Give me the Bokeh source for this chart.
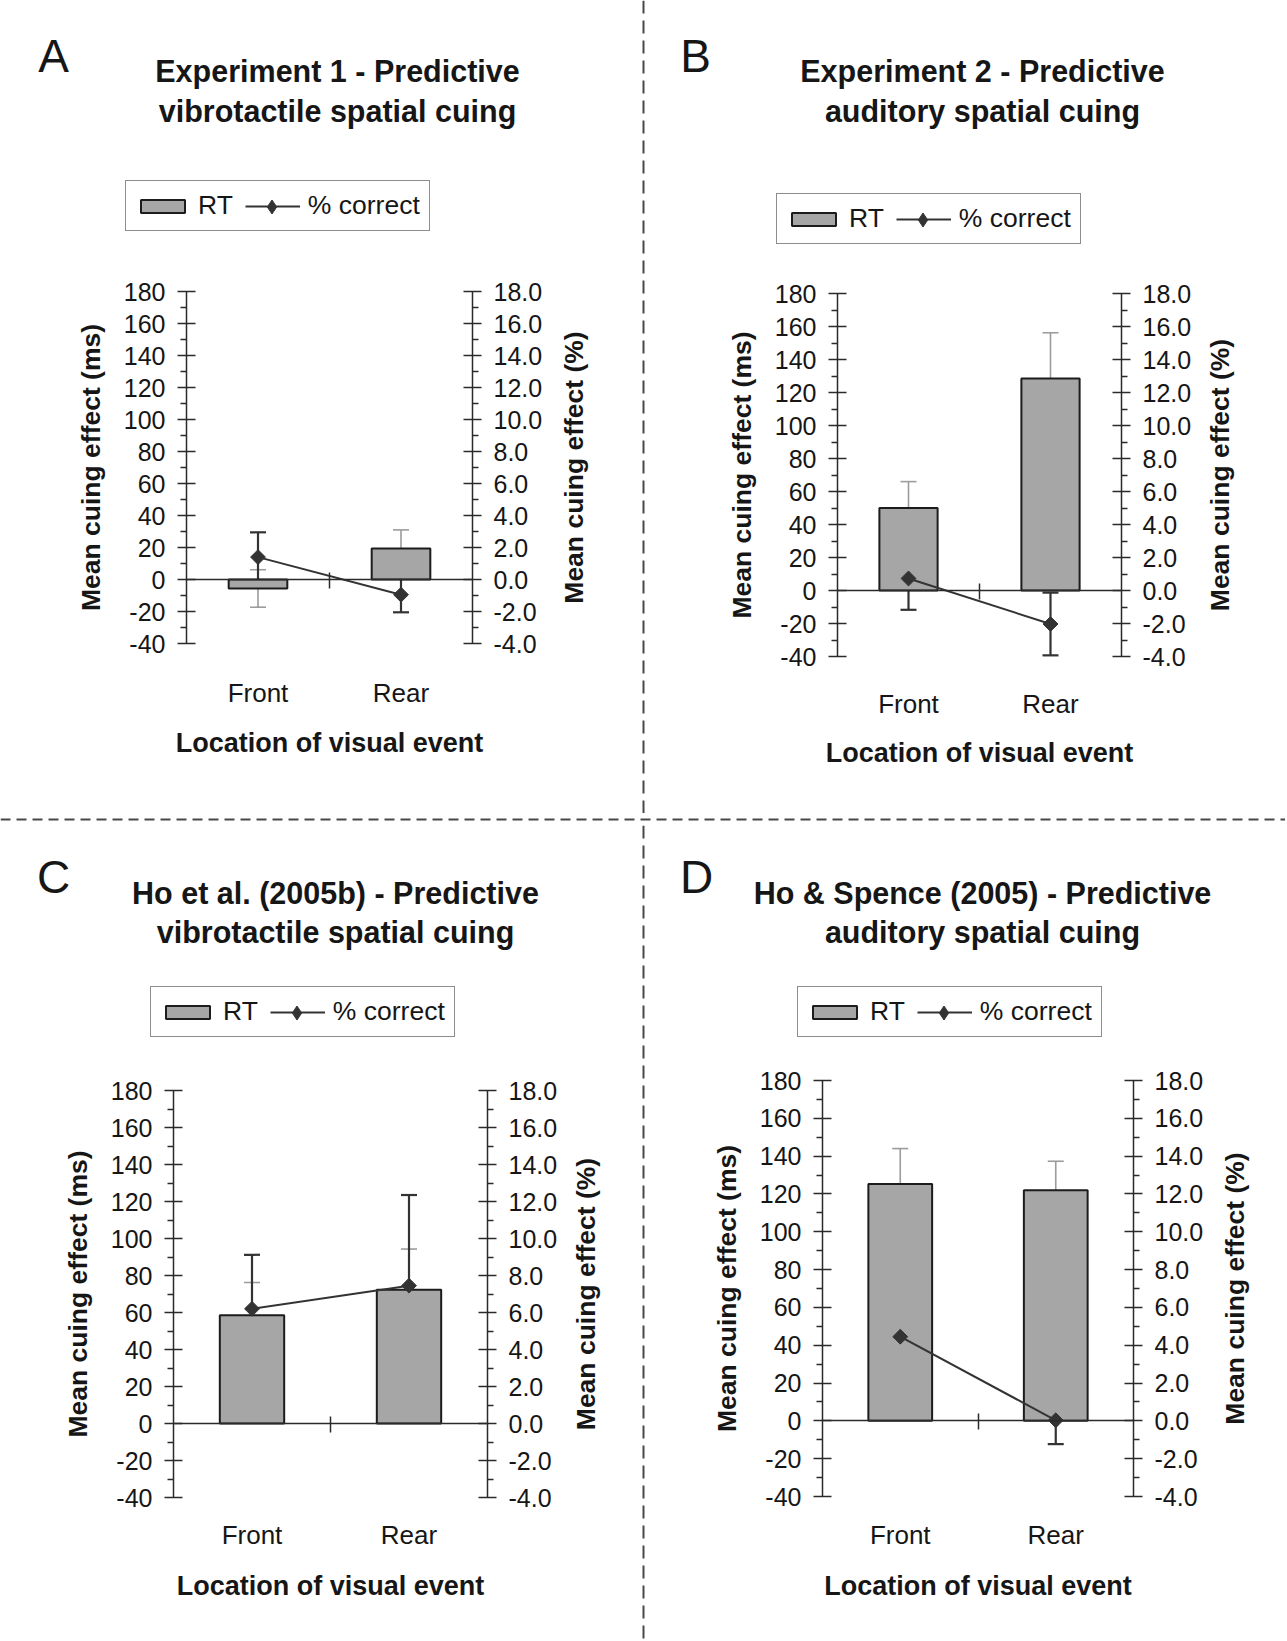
import math
from bokeh.plotting import figure
from bokeh.models import (Range1d, LinearAxis, FixedTicker, PrintfTickFormatter,
                          ColumnDataSource, Whisker, TeeHead, Legend, LegendItem,
                          Label, Span)
from bokeh.layouts import column, row
from bokeh.embed import file_html
from bokeh.resources import INLINE

FONT = "Liberation Sans"
INK = "#161616"

# ---------------- data ----------------
categories = ["Front", "Rear"]
x_pos = [0.5, 1.5]

rt_ticks = [-40, -20, 0, 20, 40, 60, 80, 100, 120, 140, 160, 180]
rt_minor = [-30, -10, 10, 30, 50, 70, 90, 110, 130, 150, 170]
pct_ticks = [-4, -2, 0, 2, 4, 6, 8, 10, 12, 14, 16, 18]
pct_minor = [-3, -1, 1, 3, 5, 7, 9, 11, 13, 15, 17]

letters = ["A", "B", "C", "D"]
titles_1 = ["Experiment 1 - Predictive", "Experiment 2 - Predictive",
            "Ho et al. (2005b) - Predictive", "Ho & Spence (2005) - Predictive"]
titles_2 = ["vibrotactile spatial cuing", "auditory spatial cuing",
            "vibrotactile spatial cuing", "auditory spatial cuing"]

rt_A = [-5.6, 19.3]
rt_err_A = [11.7, 11.7]
pct_A = [1.4, -0.95]
pct_err_A = [1.55, 1.1]

rt_B = [50.0, 128.5]
rt_err_B = [16.0, 27.7]
pct_B = [0.73, -2.03]
pct_err_B = [1.9, 1.9]

rt_C = [58.5, 72.3]
rt_err_C = [17.7, 22.0]
pct_C = [6.2, 7.45]
pct_err_C = [2.92, 4.9]

rt_D = [125.3, 122.0]
rt_err_D = [18.7, 15.3]
pct_D = [4.45, 0.03]
pct_err_D = [1.37, 1.26]

y_label_left = "Mean cuing effect (ms)"
y_label_right = "Mean cuing effect (%)"
x_label = "Location of visual event"
legend_labels = ["RT", "% correct"]

RT_MIN, RT_MAX = -40, 180

# legend geometry (pixels)
LEG_PAD = 9
LEG_GW = 55
LEG_GH = 16
LEG_STANDOFF = 8
LEG_SPACING = 12
LEG_FONT_PX = 26.5
LEG_H = 2 * LEG_PAD + 31
RT_LABEL_W = (0.722 + 0.611) * LEG_FONT_PX   # width of "RT" in Arial metrics
MK_BOX = 35


def style_y_axis(ax):
    ax.axis_line_color = "#2a2a2a"
    ax.axis_line_width = 1.5
    ax.major_tick_line_color = "#2a2a2a"
    ax.major_tick_line_width = 1.5
    ax.minor_tick_line_color = "#2a2a2a"
    ax.minor_tick_line_width = 1.5
    ax.major_tick_in = 9
    ax.major_tick_out = 9
    ax.minor_tick_in = 0
    ax.minor_tick_out = 6
    ax.major_label_standoff = 12
    ax.major_label_text_font = FONT
    ax.major_label_text_font_size = "25px"
    ax.major_label_text_color = INK
    ax.axis_label_text_font = FONT
    ax.axis_label_text_font_size = "26.5px"
    ax.axis_label_text_font_style = "bold"
    ax.axis_label_text_color = INK
    ax.axis_label_standoff = 15


def make_panel(i, rt, rt_err, pct, pct_err, g):
    ox, oy, W, H = g["ox"], g["oy"], g["W"], g["H"]
    L, R, T, B = g["L"], g["R"], g["T"], g["B"]

    # map the page geometry onto the data ranges (frame covers whole figure)
    ppx = (R - L) / 2.0
    x0 = 0 - (L - ox) / ppx
    x1 = 2 + (ox + W - R) / ppx
    ppy = (B - T) / float(RT_MAX - RT_MIN)
    y1 = RT_MAX + (T - oy) / ppy
    y0 = RT_MIN - (oy + H - B) / ppy

    def fx(px):
        return px - ox

    def fy(py):
        return H - (py - oy)

    p = figure(width=W, height=H, x_range=Range1d(x0, x1), y_range=Range1d(y0, y1),
               output_backend="svg", toolbar_location=None,
               x_axis_location=None, y_axis_location=None, min_border=0)
    p.extra_y_ranges = {"pct": Range1d(y0 / 10.0, y1 / 10.0)}
    p.xgrid.visible = False
    p.ygrid.visible = False
    p.outline_line_color = None
    p.background_fill_color = "white"
    p.border_fill_color = "white"

    ly = LinearAxis(fixed_location=0, bounds=(RT_MIN, RT_MAX),
                    ticker=FixedTicker(ticks=rt_ticks, minor_ticks=rt_minor),
                    formatter=PrintfTickFormatter(format="%d"),
                    axis_label=y_label_left)
    style_y_axis(ly)
    p.add_layout(ly, "left")

    ry = LinearAxis(y_range_name="pct", fixed_location=2,
                    bounds=(pct_ticks[0], pct_ticks[-1]),
                    ticker=FixedTicker(ticks=pct_ticks, minor_ticks=pct_minor),
                    formatter=PrintfTickFormatter(format="%.1f"))
    style_y_axis(ry)
    p.add_layout(ry, "right")

    # category axis crossing at zero
    zx = LinearAxis(fixed_location=0, bounds=(0, 2),
                    ticker=FixedTicker(ticks=[1], minor_ticks=[]),
                    major_label_overrides={1: ""})
    zx.axis_line_color = "#2a2a2a"
    zx.axis_line_width = 1.5
    zx.major_tick_line_color = "#2a2a2a"
    zx.major_tick_line_width = 1.5
    zx.major_tick_in = 7
    zx.major_tick_out = 9
    zx.minor_tick_line_color = None
    zx.major_label_text_font_size = "0px"
    p.add_layout(zx, "below")

    cx = LinearAxis(fixed_location=RT_MIN, bounds=(0, 2),
                    ticker=FixedTicker(ticks=x_pos, minor_ticks=[]),
                    major_label_overrides={x_pos[0]: categories[0], x_pos[1]: categories[1]},
                    axis_label=x_label)
    cx.axis_line_color = None
    cx.major_tick_line_color = None
    cx.minor_tick_line_color = None
    cx.major_tick_in = 0
    cx.major_tick_out = 0
    cx.major_label_standoff = g["cs"]
    cx.major_label_text_font = FONT
    cx.major_label_text_font_size = "26px"
    cx.major_label_text_color = INK
    cx.axis_label_text_font = FONT
    cx.axis_label_text_font_size = "27px"
    cx.axis_label_text_font_style = "bold"
    cx.axis_label_text_color = INK
    cx.axis_label_standoff = g["xs"]
    p.add_layout(cx, "below")

    src = ColumnDataSource(dict(
        x=x_pos, rt=rt,
        rt_up=[v + e for v, e in zip(rt, rt_err)],
        rt_lo=[v - e for v, e in zip(rt, rt_err)],
        pct=pct,
        pct_up=[v + e for v, e in zip(pct, pct_err)],
        pct_lo=[v - e for v, e in zip(pct, pct_err)],
    ))

    bars = p.vbar(x="x", top="rt", bottom=0, width=0.41, source=src,
                  fill_color="#a6a6a6", line_color="#1c1c1c", line_width=2)

    rt_col = "#9c9c9c"
    p.add_layout(Whisker(source=src, base="x", upper="rt_up", lower="rt_lo",
                         line_color=rt_col, line_width=1.6,
                         upper_head=TeeHead(size=16, line_color=rt_col, line_width=1.6),
                         lower_head=TeeHead(size=16, line_color=rt_col, line_width=1.6)))

    pc = "#333333"
    ln = p.line("x", "pct", source=src, y_range_name="pct", line_color=pc, line_width=2)
    p.add_layout(Whisker(source=src, base="x", upper="pct_up", lower="pct_lo",
                         y_range_name="pct", line_color=pc, line_width=2.2,
                         upper_head=TeeHead(size=16, line_color=pc, line_width=2.2),
                         lower_head=TeeHead(size=16, line_color=pc, line_width=2.2)))
    # diamond key glyph (sits entirely inside the rotated square markers)
    sk = p.scatter("x", "pct", source=src, y_range_name="pct", marker="diamond",
                   size=12, fill_color=pc, line_color=pc)
    p.scatter("x", "pct", source=src, y_range_name="pct", marker="square",
              angle=math.pi / 4, size=10.5, fill_color=pc, line_color=pc)

    leg_l, leg_t = g["leg_l"], g["leg_t"]
    leg = Legend(items=[LegendItem(label=legend_labels[0], renderers=[bars]),
                        LegendItem(label=legend_labels[1], renderers=[ln])],
                 location=(fx(leg_l), fy(leg_t + LEG_H)), orientation="horizontal")
    leg.label_text_font = FONT
    leg.label_text_font_size = "%.1fpx" % LEG_FONT_PX
    leg.label_text_color = INK
    leg.glyph_width = LEG_GW
    leg.glyph_height = LEG_GH
    leg.label_standoff = LEG_STANDOFF
    leg.spacing = LEG_SPACING
    leg.padding = LEG_PAD
    leg.margin = 0
    leg.border_line_color = "#1c1c1c"
    leg.border_line_width = 1.5
    leg.background_fill_color = "white"
    leg.background_fill_alpha = 1.0
    p.add_layout(leg)

    # diamond marker of the "% correct" key, laid over the key's line
    mk_cx = leg_l + LEG_PAD + LEG_GW + LEG_STANDOFF + RT_LABEL_W + LEG_SPACING + LEG_GW / 2.0
    mk_cy = leg_t + LEG_H / 2.0
    leg2 = Legend(items=[LegendItem(label=" ", renderers=[sk])],
                  location=(fx(mk_cx - MK_BOX / 2.0), fy(mk_cy + MK_BOX / 2.0)))
    leg2.glyph_width = MK_BOX
    leg2.glyph_height = MK_BOX
    leg2.padding = 0
    leg2.margin = 0
    leg2.label_standoff = 0
    leg2.label_text_font_size = "1px"
    leg2.border_line_color = None
    leg2.background_fill_alpha = 0.0
    p.add_layout(leg2)

    for txt, ty in ((titles_1[i], g["ty1"]), (titles_2[i], g["ty2"])):
        p.add_layout(Label(x=fx(g["tx"]), y=fy(ty), x_units="screen", y_units="screen",
                           text=txt, text_font=FONT, text_font_size="30.5px",
                           text_font_style="bold", text_color=INK,
                           text_align="center", text_baseline="middle"))
    p.add_layout(Label(x=fx(g["lx"]), y=fy(g["ly"]), x_units="screen", y_units="screen",
                       text=letters[i], text_font=FONT, text_font_size="46px",
                       text_color=INK, text_align="center", text_baseline="middle"))
    # right-hand axis title, reading bottom-to-top like the left one
    p.add_layout(Label(x=fx(g["rlx"]), y=fy((T + B) / 2.0), x_units="screen", y_units="screen",
                       text=y_label_right, angle=math.pi / 2, text_font=FONT,
                       text_font_size="26.5px", text_font_style="bold", text_color=INK,
                       text_align="center", text_baseline="middle"))
    return p


def separator(w, h, dim, dash):
    s = figure(width=w, height=h, x_range=Range1d(0, 1), y_range=Range1d(0, 1),
               output_backend="svg", toolbar_location=None,
               x_axis_location=None, y_axis_location=None, min_border=0)
    s.xgrid.visible = False
    s.ygrid.visible = False
    s.outline_line_color = None
    s.border_fill_color = "white"
    s.background_fill_color = "white"
    s.add_layout(Span(location=0.5, dimension=dim, line_color="#474747",
                      line_width=2, line_dash=dash))
    return s


TOP_H = 813
SEP_H = 12
BOT_Y = TOP_H + SEP_H
BOT_H = 1639 - BOT_Y

# page geometry (pixels from the top-left of the page)
geo_A = dict(ox=0, oy=0, W=641, H=TOP_H, L=186, R=472, T=291, B=643,
             tx=337, ty1=70, ty2=110, lx=53, ly=55, leg_l=125, leg_t=182, rlx=573,
             cs=34, xs=17)
geo_B = dict(ox=645, oy=0, W=640, H=TOP_H, L=837, R=1121, T=293, B=656,
             tx=982, ty1=70, ty2=110, lx=695, ly=55, leg_l=776, leg_t=195, rlx=1219,
             cs=32, xs=16)
geo_C = dict(ox=0, oy=BOT_Y, W=641, H=BOT_H, L=173, R=487, T=1090, B=1497,
             tx=335, ty1=892, ty2=931, lx=53, ly=876, leg_l=150, leg_t=988, rlx=585,
             cs=22, xs=18)
geo_D = dict(ox=645, oy=BOT_Y, W=640, H=BOT_H, L=822, R=1133, T=1080, B=1496,
             tx=982, ty1=892, ty2=931, lx=696, ly=876, leg_l=797, leg_t=988, rlx=1234,
             cs=23, xs=18)

pA = make_panel(0, rt_A, rt_err_A, pct_A, pct_err_A, geo_A)
pB = make_panel(1, rt_B, rt_err_B, pct_B, pct_err_B, geo_B)
pC = make_panel(2, rt_C, rt_err_C, pct_C, pct_err_C, geo_C)
pD = make_panel(3, rt_D, rt_err_D, pct_D, pct_err_D, geo_D)

v1 = separator(4, TOP_H, "height", "13 7")
v2 = separator(4, BOT_H, "height", "13 7")
h1 = separator(1285, SEP_H, "width", "10 6")

layout = column(row(pA, v1, pB), h1, row(pC, v2, pD))

open("out.html", "w").write(file_html(layout, INLINE))
